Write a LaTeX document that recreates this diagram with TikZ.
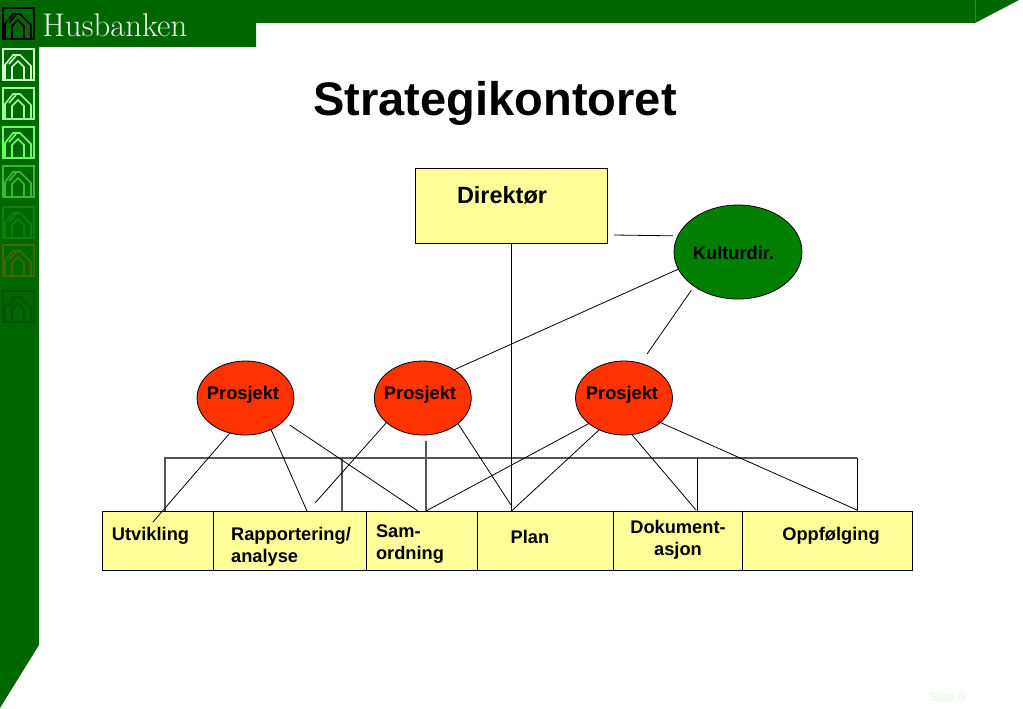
\documentclass[tikz,border=0pt]{standalone}
\usepackage{fontspec}
\newfontfamily\arialbold[BoldFont=*]{Liberation Sans Bold}
\newfontfamily\arialreg{Liberation Sans}
\usetikzlibrary{shapes.geometric,calc}
\definecolor{hbgreen}{HTML}{006600}
\definecolor{boxyellow}{HTML}{FFFF99}
\definecolor{projred}{HTML}{FF3300}
\definecolor{kulgreen}{HTML}{007F00}
\definecolor{barline}{HTML}{555555}
\definecolor{seam}{HTML}{2A882A}
\definecolor{logoa}{HTML}{CCFFCC}
\definecolor{logob}{HTML}{99FF99}
\definecolor{logoc}{HTML}{66FF66}
\definecolor{logod}{HTML}{33BB33}
\definecolor{logoe}{HTML}{0B7F0B}
\definecolor{logof}{HTML}{3F6600}
\definecolor{logog}{HTML}{005200}
\definecolor{sidetext}{HTML}{DDFFDD}
\definecolor{brandtext}{HTML}{EDF7ED}
\tikzset{
  boxnode/.style={draw=black,fill=boxyellow,line width=0.6pt,inner sep=0,outer sep=0,anchor=north west},
  proj/.style={ellipse,draw=black,fill=projred,line width=0.6pt,minimum width=72.7pt,minimum height=55.5pt,inner sep=0,outer sep=0},
  kult/.style={ellipse,draw=black,fill=kulgreen,line width=0.6pt,minimum width=96pt,minimum height=70.5pt,inner sep=0,outer sep=0},
  lbl/.style={font=\arialbold\fontsize{13.7}{16.5}\selectfont,text=black,inner sep=0,align=center},
  conn/.style={draw=black,line width=0.6pt},
  bar/.style={draw=barline,line width=0.85pt},
  logoline/.style={line width=1.2pt,line join=miter}
}
\newcommand{\hblogo}[3]{%
  \begin{scope}[shift={(#1,#2)}]
    \fill[hbgreen] (0,0) rectangle (32,32);
    \draw[#3,line width=1.5pt] (0.5,0.5) rectangle (31.5,31.5);
    \draw[#3,logoline] (3,31) -- (3,17) -- (11,7) -- (18,7) -- (29,18) -- (29,31);
    \draw[#3,logoline] (10,31) -- (10,19) -- (16,13) -- (22,19) -- (22,31);
    \draw[#3,logoline] (7,16) -- (14,8);
  \end{scope}}
\begin{document}
\begin{tikzpicture}[x=0.75pt,y=-0.75pt]
\useasboundingbox (0,0) rectangle (1023,708);
% page furniture
\fill[hbgreen] (0,0) -- (1019,0) -- (975,23) -- (256,23) -- (256,47) -- (39,47) -- (39,645) -- (0,708) -- cycle;
\draw[seam,line width=0.4pt] (975,0) -- (975,23);
\hblogo{2}{7}{black}
\hblogo{2}{48}{logoa}
\hblogo{2}{87}{logob}
\hblogo{2}{126}{logoc}
\hblogo{2}{165}{logod}
\hblogo{2}{206}{logoe}
\hblogo{2}{244}{logof}
\hblogo{2}{290}{logog}
\node[anchor=base west,inner sep=0,text=brandtext,font=\fontsize{24.6}{28}\selectfont] (brand) at (42,36) {Husbanken};
\node[anchor=base,inner sep=0,font=\arialbold\fontsize{35.3}{40}\selectfont] (title) at (495,115) {Strategikontoret};
\node[anchor=center,inner sep=0,text=sidetext,font=\arialreg\fontsize{9.5}{11}\selectfont] (side) at (947,697) {Side 5};
% shapes
\node[boxnode,minimum width=144.4pt,minimum height=56.25pt] (dir) at (415,168) {};
\node[kult] (kul) at (738,252) {};
\node[proj] (p1) at (245.5,398) {};
\node[proj] (p2) at (422.8,398) {};
\node[proj] (p3) at (624,398) {};
% grey bar
\coordinate (barL) at (165,458);
\coordinate (barR) at (857,458);
\coordinate (bar2) at (342,458);
\coordinate (bar3) at (697,458);
% bottom row
\node[boxnode,minimum width=83.25pt,minimum height=44.25pt] (utv) at (102,511) {};
\node[boxnode,minimum width=114.75pt,minimum height=44.25pt] (rap) at (213,511) {};
\node[boxnode,minimum width=83.25pt,minimum height=44.25pt] (sam) at (366,511) {};
\node[boxnode,minimum width=102.6pt,minimum height=44.25pt] (pla) at (477,511) {};
\node[boxnode,minimum width=96.15pt,minimum height=44.25pt] (dok) at (613.8,511) {};
\node[boxnode,minimum width=127.5pt,minimum height=44.25pt] (opp) at (742,511) {};
% connector ends
\coordinate (dirgap) at (614,235);
\coordinate (p3free) at (647,354);
\coordinate (utvEnd) at (153,522);
\coordinate (rapEnd) at (307,511);
\coordinate (rapFree) at (315,503);
\coordinate (samEnd) at (418,511);
\coordinate (samEnd2) at (426,511);
\coordinate (plaTop) at (511.5,511);
\coordinate (plaEnd) at (511,505);
\coordinate (dokEnd) at (696,510);
\coordinate (oppEnd) at (857,510);
% bar
\draw[bar] (barL |- utv.north) -- (barL) -- (barR);
\draw[conn] (barR) -- (barR |- opp.north);
\draw[bar] (bar2) -- (bar2 |- rap.north);
\draw[conn] (bar3) -- (bar3 |- dok.north);
% connectors
\draw[conn] (dir.south -| plaTop) -- (plaTop);
\draw[conn,shorten <=3.75pt] (kul.165) -- (dirgap);
\draw[conn] (kul.196.3) -- (p2.42);
\draw[conn,shorten <=3.75pt] (kul.218.5) -- (p3free);
\draw[conn] (p1.246) -- (utvEnd);
\draw[conn] (p1.309.5) -- (rapEnd);
\draw[conn,shorten <=5.9pt] (p1.329.6) -- (samEnd);
\draw[conn] (p2.214) -- (rapFree);
\draw[bar] (samEnd2 |- 0,441) -- (samEnd2);
\draw[conn] (p2.324) -- (plaEnd);
\draw[conn] (p3.216.6) -- (samEnd2);
\draw[conn] (p3.232) -- (plaTop);
\draw[conn] (p3.282) -- (dokEnd);
\draw[conn,shorten <=-2.5pt] (p3.326.7) -- (oppEnd);
% labels
\node[lbl,font=\arialbold\fontsize{17.6}{20}\selectfont] (tdir) at (502,195) {Direktør};
\node[lbl] (tkul) at (733.5,252.5) {Kulturdir.};
\node[lbl] (tp1) at (243,394.5) {Prosjekt};
\node[lbl] (tp2) at (420,394.5) {Prosjekt};
\node[lbl] (tp3) at (622,394.5) {Prosjekt};
\node[lbl] (tutv) at (150.5,536) {Utvikling};
\node[lbl,align=left] (trap) at (291,547) {Rapportering/\\analyse};
\node[lbl,align=left] (tsam) at (410,544) {Sam-\\ordning};
\node[lbl] (tpla) at (530,537) {Plan};
\node[lbl] (tdok) at (678,539.5) {Dokument-\\asjon};
\node[lbl] (topp) at (831,536) {Oppfølging};
\end{tikzpicture}
\end{document}
